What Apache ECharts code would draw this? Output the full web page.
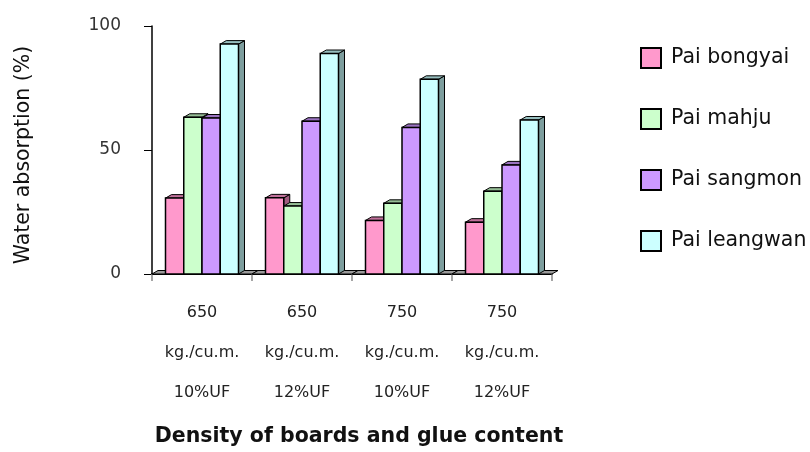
<!DOCTYPE html>
<html>
<head>
<meta charset="utf-8">
<script src="https://cdn.jsdelivr.net/npm/echarts@6/dist/echarts.min.js"></script>
<style>
  html, body { margin: 0; padding: 0; background: #fff; }
  #chart { width: 810px; height: 452px; }
</style>
</head>
<body>
<div id="chart"></div>
<script>
// Board groups: density and glue content
const categories = [
  '650\nkg./cu.m.\n10%UF',
  '650\nkg./cu.m.\n12%UF',
  '750\nkg./cu.m.\n10%UF',
  '750\nkg./cu.m.\n12%UF'
];
const seriesNames = ['Pai bongyai', 'Pai mahju', 'Pai sangmon', 'Pai leangwan'];

// Water absorption (%) per bamboo species
const paiBongyai  = [30.6, 30.7, 21.6, 20.9];
const paiMahju    = [63.2, 27.4, 28.5, 33.4];
const paiSangmon  = [62.9, 61.6, 59.1, 44.0];
const paiLeangwan = [92.7, 88.9, 78.5, 62.1];

const yTicks = [0, 50, 100];

const seriesValues = [paiBongyai, paiMahju, paiSangmon, paiLeangwan];
const frontColors = ['#FF99CC', '#CCFFCC', '#CC99FF', '#CCFFFF'];
const topColors   = ['#C0709A', '#96BE96', '#9A72C0', '#96BEBE'];
const sideColors  = ['#A05C80', '#7E9E7E', '#7E5CA0', '#7E9E9E'];

const FONT = '"DejaVu Sans", "Noto Sans", sans-serif';
const DX = 6, DY = 3.5;         // oblique depth of the pseudo-3D bars
const GROUP_FILL = 0.73;        // share of a category taken by the bar group

function barRenderer(s) {
  return function (params, api) {
    const ci = api.value(0);
    const v = api.value(1);
    const base = api.coord([ci, 0]);
    const top = api.coord([ci, v]);
    const catW = api.size([1, 0])[0];
    const bw = catW * GROUP_FILL / seriesNames.length;
    const x0 = base[0] - bw * seriesNames.length / 2 + s * bw;
    const x1 = x0 + bw;
    const ty = top[1], by = base[1];
    return {
      type: 'group',
      children: [
        { type: 'polygon',
          shape: { points: [[x1, ty], [x1 + DX, ty - DY], [x1 + DX, by - DY], [x1, by]] },
          style: { fill: sideColors[s], stroke: '#000', lineWidth: 1 } },
        { type: 'polygon',
          shape: { points: [[x0, ty], [x1, ty], [x1 + DX, ty - DY], [x0 + DX, ty - DY]] },
          style: { fill: topColors[s], stroke: '#000', lineWidth: 1 } },
        { type: 'rect',
          shape: { x: x0, y: ty, width: bw, height: by - ty },
          style: { fill: frontColors[s], stroke: '#000', lineWidth: 1.5 } }
      ]
    };
  };
}

// Thin floor slab under each category
function floorRenderer(params, api) {
  const ci = api.value(0);
  const base = api.coord([ci, 0]);
  const catW = api.size([1, 0])[0];
  const xa = base[0] - catW / 2, xb = base[0] + catW / 2;
  const by = base[1];
  return {
    type: 'polygon',
    shape: { points: [[xa, by], [xb, by], [xb + DX, by - DY], [xa + DX, by - DY]] },
    style: { fill: '#9a9a9a', stroke: '#000', lineWidth: 1 }
  };
}

const series = [{
  type: 'custom',
  name: 'floor',
  renderItem: floorRenderer,
  data: categories.map((c, i) => [i]),
  silent: true,
  z: 1
}];
seriesNames.forEach((name, s) => {
  series.push({
    type: 'custom',
    name: name,
    renderItem: barRenderer(s),
    encode: { x: 0, y: 1 },
    data: seriesValues[s].map((v, i) => [i, v]),
    itemStyle: { color: frontColors[s] },
    z: 3
  });
});

const chart = echarts.init(document.getElementById('chart'), null, { renderer: 'canvas' });
chart.setOption({
  animation: false,
  backgroundColor: '#fff',
  textStyle: { fontFamily: FONT },
  grid: { left: 152, right: 258, top: 26, bottom: 174.5, containLabel: false },
  legend: {
    data: seriesNames,
    orient: 'vertical',
    left: 635,
    top: 42,
    itemWidth: 20,
    itemHeight: 20,
    itemGap: 39,
    icon: 'rect',
    itemStyle: { borderColor: '#000', borderWidth: 2 },
    textStyle: { fontFamily: FONT, fontSize: 20.5, lineHeight: 20, color: '#111', padding: [0, 0, 0, 5] }
  },
  xAxis: {
    type: 'category',
    data: categories,
    name: 'Density of boards and glue content',
    nameLocation: 'middle',
    nameGap: 152,
    nameTextStyle: { fontFamily: FONT, fontSize: 20.5, fontWeight: 'bold', color: '#111', padding: [0, 0, 0, 14] },
    axisLine: { show: true, lineStyle: { color: '#000', width: 2 } },
    axisTick: { show: true, length: 7, lineStyle: { color: '#888', width: 1.5 } },
    axisLabel: { fontFamily: FONT, fontSize: 16, color: '#222', lineHeight: 40, margin: 19 }
  },
  yAxis: {
    type: 'value',
    min: yTicks[0],
    max: yTicks[yTicks.length - 1],
    interval: yTicks[1] - yTicks[0],
    name: 'Water absorption (%)',
    nameLocation: 'middle',
    nameRotate: 90,
    nameGap: 118,
    nameTextStyle: { fontFamily: FONT, fontSize: 20.5, color: '#111', padding: [0, 10, 0, 0] },
    axisLine: { show: true, lineStyle: { color: '#000', width: 1.5 } },
    axisTick: { show: true, length: 8, lineStyle: { color: '#000', width: 1 } },
    axisLabel: { fontFamily: FONT, fontSize: 17, color: '#333', margin: 31 },
    splitLine: { show: false }
  },
  series: series
});
</script>
</body>
</html>
